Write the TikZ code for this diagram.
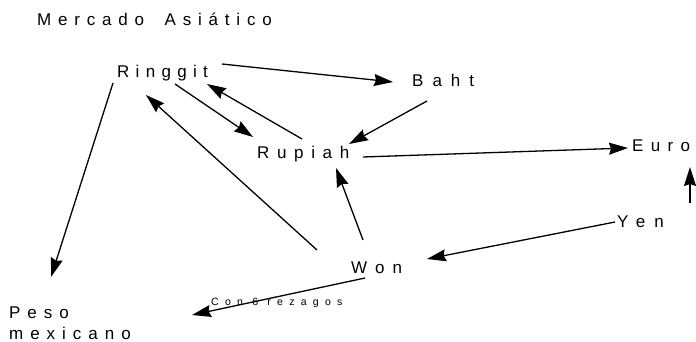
\documentclass[tikz,border=0pt]{standalone}
\usepackage{fontspec}
\setmainfont{Liberation Sans}
\newfontfamily\lsf{Liberation Sans}
\usetikzlibrary{arrows.meta,calc}
\begin{document}
\begin{tikzpicture}[x=1pt,y=-1pt,
  lbl/.style={inner sep=0pt,anchor=base west,font=\fontsize{17}{21}\lsf\addfontfeatures{LetterSpace=#1}},
  lbl/.default=46,
  small/.style={inner sep=0pt,anchor=base west,font=\fontsize{10.5}{12}\lsf\addfontfeatures{LetterSpace=60}},
  arr/.style={line width=1.3pt,-{Stealth[length=19pt,width=12pt,inset=2pt]}}]
\useasboundingbox (0,0) rectangle (696,342);
\node[lbl=40] (title) at (37,26) {Mercado\hspace{9pt} Asiático};
\node[lbl=37] (ringgit) at (117,78) {Ringgit};
\node[lbl=53] (baht) at (412,87) {Baht};
\node[lbl=45] (rupiah) at (257,158) {Rupiah};
\node[lbl=43] (euro) at (632,151) {Euro};
\node[lbl=53] (yen) at (617,227) {Yen};
\node[lbl=46] (won) at (351,273) {W\kern8pt on};
\node[lbl=41,anchor=north west,align=left] (peso) at (9,307) {Peso\\mexicano};
\node[small] (rez) at (211,305) {Con 6 rezagos};
\coordinate (eurobelow) at ($(euro.base west)+(58,52)$);
% connectors
\draw[arr] ($(ringgit.base west)+(105,-14)$) -- ($(baht.base west)+(-19,-5)$);
\draw[arr] ($(ringgit.base west)+(-4,5)$) -- ($(peso.north west)+(42,-30)$);
\draw[arr] ($(ringgit.base west)+(58,6)$) -- ($(rupiah.base west)+(-4,-21)$);
\draw[arr] ($(rupiah.base west)+(45,-19)$) -- ($(ringgit.base west)+(90,6)$);
\draw[arr] ($(won.base west)+(-34,-23)$) -- ($(ringgit.base west)+(29,17)$);
\draw[arr] ($(baht.base west)+(15,14)$) -- ($(rupiah.base west)+(92,-14)$);
\draw[arr] ($(rupiah.base west)+(106,-1)$) -- ($(euro.base west)+(-4,-3)$);
\draw[arr] ($(won.base west)+(12,-33)$) -- ($(rupiah.base west)+(79,10)$);
\draw[arr] ($(yen.base west)+(-2,-5)$) -- ($(won.base west)+(76,-14)$);
\draw[arr] ($(won.base west)+(14,5)$) -- ($(peso.north west)+(183,8)$);
\draw[arr] (eurobelow) -- ($(euro.base west)+(58,16)$);
\end{tikzpicture}
\end{document}
